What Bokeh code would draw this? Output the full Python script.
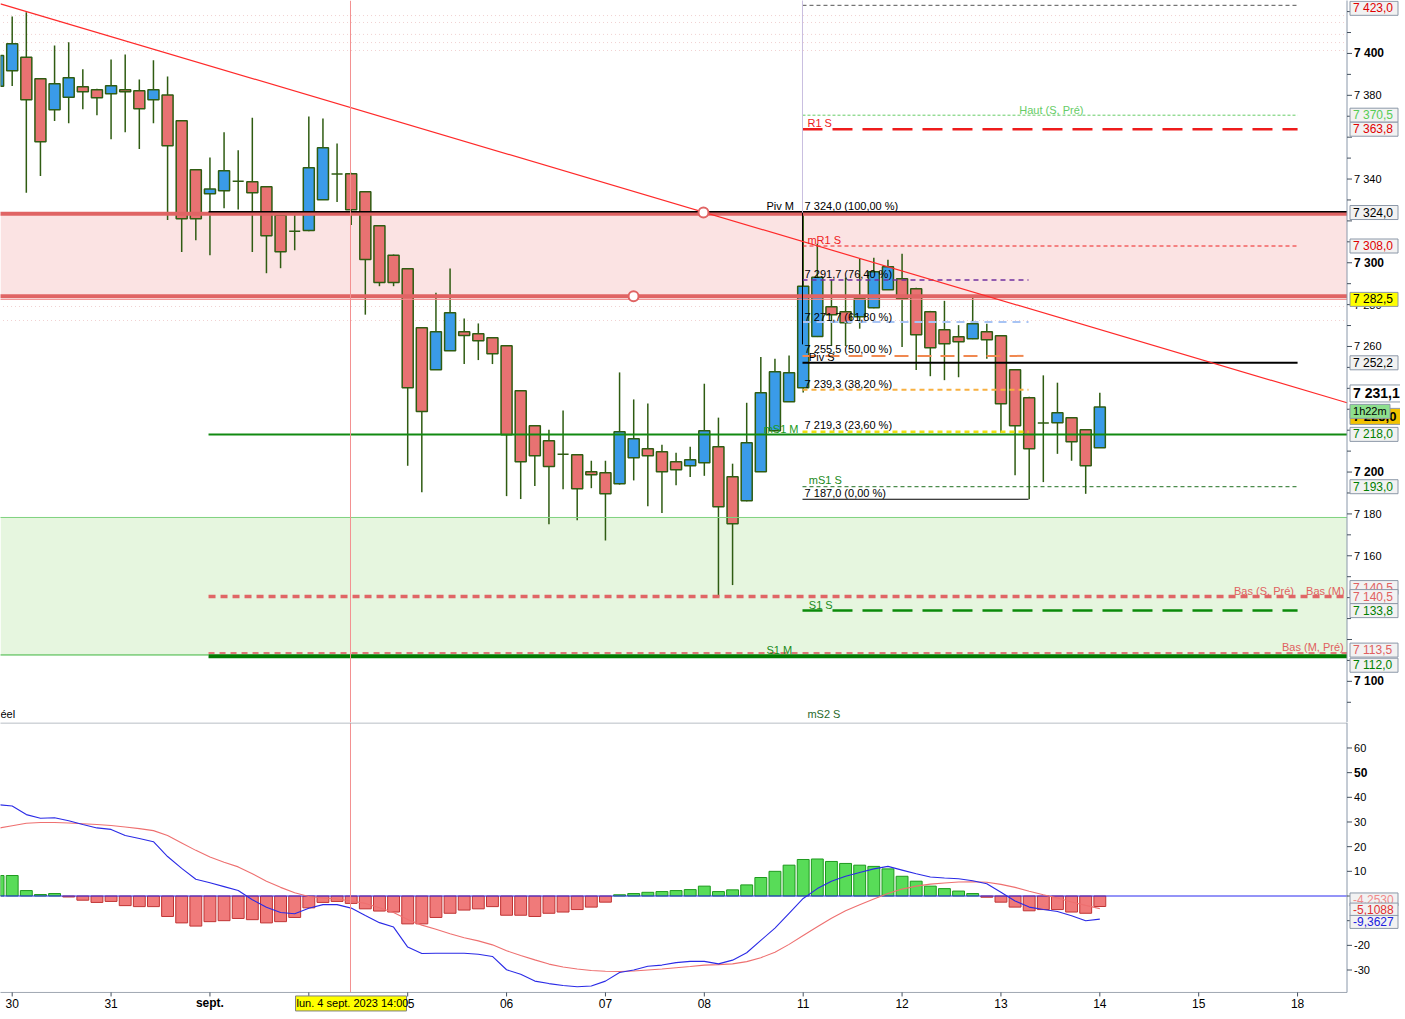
from bokeh.plotting import figure
from bokeh.models import Range1d, Span, BoxAnnotation, ColumnDataSource
from bokeh.layouts import column
from bokeh.embed import file_html
from bokeh.resources import INLINE
from bokeh.core.properties import value

# ---------------- data ----------------
candle_idx = list(range(-1, 78))
open_ = [7384.3, 7391.7, 7398.2, 7387.9, 7373.1, 7379.1, 7384.1, 7382.7, 7380.7, 7382.7,
         7382.2, 7377.9, 7380.1, 7367.8, 7344.4, 7333.0, 7334.4, 7339.0, 7338.7, 7336.3,
         7322.7, 7315.1, 7315.4, 7330.1, 7342.4, 7342.5, 7333.9, 7317.7, 7303.6, 7297.1,
         7268.9, 7248.9, 7258.0, 7267.0, 7266.1, 7264.2, 7260.3, 7238.8, 7222.1, 7215.0,
         7208.5, 7208.3, 7200.1, 7199.7, 7194.4, 7206.8, 7211.1, 7209.7, 7204.9, 7203.0,
         7204.4, 7212.1, 7197.8, 7186.3, 7200.1, 7219.7, 7233.6, 7240.3, 7264.8, 7279.0,
         7276.6, 7274.2, 7278.5, 7287.1, 7292.4, 7287.6, 7276.6, 7268.0, 7264.6, 7263.7,
         7267.0, 7265.1, 7248.9, 7235.5, 7223.4, 7223.6, 7225.9, 7220.2, 7211.6]
high = [7402.0, 7417.7, 7419.7, 7388.0, 7403.8, 7405.3, 7392.4, 7383.1, 7397.1, 7399.5,
        7387.6, 7396.7, 7389.0, 7368.0, 7344.5, 7350.3, 7362.3, 7353.7, 7369.3, 7336.5,
        7323.0, 7322.7, 7369.9, 7368.9, 7357.0, 7343.0, 7334.0, 7318.0, 7304.0, 7297.5,
        7269.0, 7285.7, 7297.3, 7273.4, 7271.0, 7264.5, 7260.5, 7239.0, 7222.5, 7220.2,
        7229.4, 7208.5, 7205.4, 7205.4, 7247.6, 7234.7, 7232.8, 7213.0, 7209.2, 7212.1,
        7242.2, 7226.0, 7204.0, 7233.1, 7255.0, 7254.1, 7255.7, 7324.0, 7309.1, 7291.9,
        7292.9, 7301.9, 7302.4, 7301.4, 7304.3, 7288.0, 7277.0, 7281.8, 7270.2, 7283.6,
        7270.9, 7265.5, 7249.0, 7236.0, 7246.2, 7242.7, 7226.0, 7220.5, 7237.9]
low = [7378.0, 7384.4, 7333.4, 7341.4, 7367.7, 7366.7, 7373.4, 7370.5, 7359.0, 7362.4,
       7354.3, 7366.7, 7320.4, 7305.1, 7310.8, 7303.6, 7326.0, 7325.5, 7305.1, 7295.0,
       7297.4, 7306.0, 7315.0, 7330.0, 7329.0, 7318.0, 7275.2, 7288.8, 7288.8, 7203.0,
       7190.4, 7248.9, 7258.0, 7251.6, 7253.5, 7251.6, 7188.5, 7187.1, 7193.3, 7175.1,
       7191.8, 7177.0, 7192.3, 7167.3, 7194.0, 7196.0, 7183.7, 7180.4, 7193.7, 7197.6,
       7198.2, 7140.5, 7146.0, 7186.0, 7200.0, 7219.5, 7233.5, 7238.0, 7264.5, 7260.2,
       7260.2, 7268.5, 7278.3, 7287.0, 7259.7, 7248.7, 7245.8, 7243.9, 7245.3, 7263.5,
       7254.1, 7218.8, 7198.5, 7187.0, 7195.2, 7208.7, 7205.4, 7189.6, 7211.5]
close = [7399.0, 7404.6, 7377.9, 7357.8, 7385.5, 7388.4, 7381.7, 7378.8, 7384.6, 7381.7,
         7373.6, 7382.7, 7355.9, 7321.0, 7321.0, 7335.2, 7344.0, 7339.0, 7333.4, 7312.9,
         7305.3, 7315.1, 7345.4, 7354.9, 7342.4, 7325.3, 7301.6, 7290.6, 7290.6, 7240.3,
         7228.9, 7267.0, 7276.1, 7265.3, 7262.7, 7256.5, 7217.8, 7204.9, 7207.8, 7202.6,
         7208.5, 7192.0, 7198.7, 7189.6, 7219.3, 7215.9, 7207.8, 7200.1, 7201.1, 7205.9,
         7219.7, 7183.4, 7175.3, 7214.0, 7237.9, 7247.9, 7247.4, 7288.8, 7293.1, 7275.2,
         7271.3, 7282.8, 7295.7, 7298.1, 7282.8, 7265.6, 7259.4, 7261.3, 7262.3, 7270.9,
         7263.2, 7232.6, 7222.1, 7211.1, 7223.4, 7228.3, 7214.5, 7203.0, 7231.1]

macd_hist = [8.3, 8.3, 2.2, 0.6, 1.0, -0.4, -1.7, -2.6, -2.2, -3.9,
             -4.3, -4.3, -8.3, -10.9, -12.2, -10.4, -10.0, -9.1, -9.6, -10.9,
             -10.4, -8.7, -4.8, -2.6, -2.2, -3.0, -5.2, -6.1, -6.5, -11.3,
             -11.3, -8.7, -7.0, -5.7, -5.2, -4.3, -7.8, -7.8, -8.3, -7.0,
             -6.5, -5.5, -4.5, -2.5, 0.5, 1.0, 1.5, 1.8, 2.2, 2.6,
             4.0, 1.8, 2.5, 4.5, 7.5, 10.0, 12.5, 14.8, 15.0, 14.0,
             13.2, 12.5, 12.0, 11.0, 8.0, 6.0, 4.0, 3.0, 2.0, 1.0,
             -0.5, -2.5, -4.5, -6.0, -5.5, -5.5, -6.5, -7.0, -4.25]
macd_line = [37.0, 36.5, 33.0, 31.5, 31.7, 30.5, 29.0, 27.6, 27.0, 24.5,
             23.3, 22.0, 16.0, 11.2, 6.8, 5.4, 3.8, 2.2, -1.5, -4.6,
             -6.7, -7.2, -5.0, -3.5, -3.5, -4.9, -7.9, -10.8, -12.6, -20.7,
             -23.3, -23.2, -23.2, -23.2, -23.6, -24.5, -29.9, -31.7, -34.5, -35.5,
             -36.3, -36.8, -36.5, -34.5, -31.0, -30.0, -28.5, -28.0, -27.0, -26.5,
             -26.5, -27.5, -26.0, -23.0, -18.0, -13.0, -7.0, -1.0, 3.0, 6.0,
             8.0, 9.5, 11.0, 12.0, 10.5, 9.0, 7.7, 7.3, 7.0, 6.2,
             5.0, 1.5, -2.0, -4.5, -5.5, -6.3, -8.0, -10.0, -9.3627]
signal_line = [27.5, 28.5, 29.5, 29.8, 29.8, 29.6, 29.3, 29.0, 28.6, 28.0,
               27.3, 26.5, 24.5, 21.5, 18.5, 15.8, 13.7, 11.8, 9.0, 6.0,
               3.5, 1.3, -0.2, -0.8, -1.2, -2.0, -3.0, -4.8, -6.7, -9.5,
               -11.8, -13.5, -15.3, -16.9, -18.2, -19.8, -22.2, -24.1, -25.9, -27.6,
               -28.8, -29.6, -30.2, -30.5, -30.6, -30.4, -30.0, -29.6, -29.1, -28.6,
               -28.0, -27.8, -27.5, -26.6, -25.0, -22.8, -19.6, -16.0, -12.5, -9.0,
               -6.0, -3.5, -1.2, 1.0, 2.8, 4.0, 4.8, 5.3, 5.7, 5.8,
               5.6, 4.7, 3.5, 1.9, 0.5, -0.8, -2.4, -3.8, -5.1088]

day_ticks = [0, 7, 14, 21, 28, 35, 42, 49, 56, 63, 70, 77, 84, 91]
day_labels = ["30", "31", "sept.", "04", "05", "06", "07", "08", "11", "12", "13", "14", "15", "18"]

price_ticks = list(range(7100, 7421, 20))
price_minor = list(range(7090, 7431, 20))
macd_ticks = [-30, -20, -10, 0, 10, 20, 30, 40, 50, 60]

# key levels
zone_red = (7284.0, 7323.4)
zone_red_line = 7282.5
zone_green = (7112.6, 7178.3)
piv_m, ms1_m, s1_m = 7324.0, 7218.0, 7112.0
bas_s_pre, bas_m_pre = 7140.5, 7113.5
mr2_s, haut_s_pre, r1_s, mr1_s, piv_s, ms1_s, s1_s = 7423.0, 7370.5, 7363.8, 7308.0, 7252.2, 7193.0, 7133.8
fib_hi, fib_lo = 7324.0, 7187.0
fib_levels = [7291.7, 7271.7, 7255.5, 7239.3, 7219.3]
fib_texts = ["7 324,0 (100,00 %)", "7 291,7 (76,40 %)", "7 271,7 (61,80 %)", "7 255,5 (50,00 %)",
             "7 239,3 (38,20 %)", "7 219,3 (23,60 %)", "7 187,0 (0,00 %)"]
faint_levels = [7418.1, 7414.8, 7409.1, 7405.2, 7401.4, 7279.1, 7272.4]
trend_pts = [(-0.83, 7423.7), (94.5, 7233.1)]
handle_pts = [(48.94, 7324.0), (43.99, 7284.0)]
cursor_idx = 23.95
macd_last = [-4.2530, -5.1088, -9.3627]

FONT = "Liberation Sans"
BLUE, RED, WICK = "#3a9be8", "#e87272", "#2f5c12"
AXC, TKC = "#8a98aa", "#44505e"

PXI = 14.125             # pixels per candle slot
XR = Range1d(-0.828, -0.828 + 1400 / PXI)
PY1 = 2.093              # pixels per price point
PY2 = 2.467              # pixels per MACD unit
AX = 94.5                # right axis position (index units)
def dx(px):
    return px / PXI

# ---------------- main price panel ----------------
p1 = figure(frame_width=1400, frame_height=722, x_range=XR,
            y_range=Range1d(7425.3 - 722 / PY1, 7425.3),
            toolbar_location=None, output_backend="svg", title=None,
            x_axis_location=None, y_axis_location=None,
            min_border_left=0, min_border_top=0, min_border_bottom=0, min_border_right=0)
p1.grid.visible = False
p1.outline_line_color = None
p1.background_fill_color = "white"

p1.add_layout(BoxAnnotation(bottom=zone_red[0], top=zone_red[1], right=AX, fill_color="#fbe3e3",
                            fill_alpha=1, line_color=None, level="underlay"))
p1.add_layout(BoxAnnotation(bottom=zone_green[0], top=zone_green[1], right=AX, fill_color="#e6f6df",
                            fill_alpha=1, line_color=None, level="underlay"))

def hseg(fig, y, x0, x1, color, width, dash="solid", alpha=1.0):
    fig.segment(x0=[x0], y0=[y], x1=[x1], y1=[y], line_color=color, line_width=width,
                line_dash=dash, line_alpha=alpha)

L0 = -1.5
for fl in faint_levels:
    hseg(p1, fl, L0, AX, "#f1d2d2", 1, "1 3")

src = ColumnDataSource(dict(
    x=candle_idx, o=open_, h=high, l=low, c=close,
    top=[max(a, b) for a, b in zip(open_, close)],
    bot=[min(a, b) for a, b in zip(open_, close)],
    col=[BLUE if c >= o else RED for o, c in zip(open_, close)]))
p1.segment("x", "h", "x", "l", source=src, line_color=WICK, line_width=1.5)
p1.vbar("x", 0.78, "top", "bot", source=src, fill_color="col", line_color=WICK, line_width=1.5)

W0, W1 = 55.95, 91.0
M0, M1 = 13.9, AX
F0, F1 = 55.95, 71.95

hseg(p1, zone_green[1], L0, M1, "#7fd27f", 1)
hseg(p1, zone_green[0], L0, M0, "#3cb43c", 1)
hseg(p1, zone_red_line, L0, M1, "#f08a8a", 1)
hseg(p1, zone_red[1], L0, M1, "#e06464", 4)
hseg(p1, zone_red[0], L0, M1, "#e06464", 4)
hseg(p1, piv_m + 0.4, M0, M1, "black", 1.5)

hseg(p1, mr2_s, W0, W1, "#555555", 1, "4 3")
hseg(p1, haut_s_pre, W0, W1, "#66cc66", 1, "3 2")
hseg(p1, r1_s, W0, W1, "#ee1c1c", 2.5, "20 10")
hseg(p1, mr1_s, W0, W1, "#ee2020", 1, "4 3")
hseg(p1, piv_s, W0, W1, "black", 2)
hseg(p1, ms1_s, W0, W1, "#1f6f1f", 1, "4 3")
hseg(p1, s1_s, W0, W1, "#0a8a0a", 2.5, "20 10")

hseg(p1, ms1_m, M0, M1, "#128a12", 2)
hseg(p1, bas_s_pre, M0, M1, "#e06666", 3.5, "7 5")
hseg(p1, s1_m, M0, M1, "#007a00", 4)
hseg(p1, bas_m_pre, M0, M1, "#e07878", 2, "6 5")

fib_cols = ["#7030a0", "#a8c4f4", "#f08850", "#f8b040", "#f0e010"]
fib_w = [1.5, 2, 2, 2, 2.5]
fib_d = ["5 4", "8 6", "14 9", "5 4", "5 4"]
for lv, c, w, d in zip(fib_levels, fib_cols, fib_w, fib_d):
    hseg(p1, lv, F0, F1, c, w, d)
hseg(p1, fib_lo, F0, F1, "black", 1)
p1.segment(x0=[F0], y0=[fib_hi], x1=[F0], y1=[7261.0], line_color="black", line_width=1)
p1.segment(x0=[F0], y0=[7426.0], x1=[F0], y1=[fib_hi], line_color="#c9bfe0", line_width=1)

p1.line(x=[t[0] for t in trend_pts], y=[t[1] for t in trend_pts], line_color="#ff2a2a", line_width=1.2)
p1.scatter(x=[h[0] for h in handle_pts], y=[h[1] for h in handle_pts], size=10,
           fill_color="white", line_color="#e06464", line_width=2)
p1.add_layout(Span(location=cursor_idx, dimension="height", line_color="#f39090", line_width=1))

def txt(fig, xs, ys, ss, color="black", size="11px", style="normal", align="left"):
    fig.text(x=xs, y=ys, text=ss, text_color=color, text_font=value(FONT), text_font_size=value(size),
             text_font_style=style, text_align=align, text_baseline="middle")

# chart texts
txt(p1, [53.4], [7326.9], ["Piv M"])
txt(p1, [56.1] * 7, [7326.9, 7294.4, 7274.3, 7258.6, 7242.3, 7222.3, 7189.8], fib_texts)
txt(p1, [56.3], [7367.0], ["R1 S"], "#ee1c1c")
txt(p1, [71.3], [7373.2], ["Haut (S, Pré)"], "#66cc66")
txt(p1, [56.3], [7311.1], ["mR1 S"], "#ee2020")
txt(p1, [56.4], [7255.2], ["Piv S"])
txt(p1, [53.2], [7220.8], ["mS1 M"], "#1a9a1a")
txt(p1, [56.4], [7196.0], ["mS1 S"], "#1a8a1a")
txt(p1, [56.4], [7136.7], ["S1 S"], "#1a8a1a")
txt(p1, [53.4], [7114.8], ["S1 M"], "#1a8a1a")
txt(p1, [86.5, 91.6], [7143.4, 7143.4], ["Bas (S, Pré)", "Bas (M)"], "#e06060")
txt(p1, [89.9], [7116.2], ["Bas (M, Pré)"], "#e06060")
txt(p1, [56.3], [7084.6], ["mS2 S"], "#2a6a2a")
txt(p1, [-0.83], [7084.4], ["éel"])

# ---- right price axis (ticks and labels mapped by the figure's scale) ----
def fmt_price(t):
    return f"{t // 1000} {t % 1000:03d}"

def right_axis(fig, y0, y1, ticks, minor, labels, bold, hidden, tl=5):
    fig.segment(x0=[AX], y0=[y0], x1=[AX], y1=[y1], line_color=AXC, line_width=1)
    fig.segment(x0=[AX] * len(ticks), y0=ticks, x1=[AX + dx(tl)] * len(ticks), y1=ticks,
                line_color=TKC, line_width=1)
    if minor:
        fig.segment(x0=[AX] * len(minor), y0=minor, x1=[AX + dx(4)] * len(minor), y1=minor,
                    line_color=TKC, line_width=1)
    nt = [(t, s) for t, s in zip(ticks, labels) if t not in hidden and t not in bold]
    bt = [(t, s) for t, s in zip(ticks, labels) if t in bold and t not in hidden]
    txt(fig, [AX + dx(7)] * len(nt), [t for t, _ in nt], [s for _, s in nt], size="11px")
    txt(fig, [AX + dx(7)] * len(bt), [t for t, _ in bt], [s for _, s in bt], size="12px", style="bold")

right_axis(p1, 7080.0, 7426.0, price_ticks, price_minor, [fmt_price(t) for t in price_ticks],
           {7100, 7200, 7300, 7400}, {7420, 7360, 7320, 7240, 7220, 7140, 7120})

BOX_X = AX + dx(27)
def boxes(fig, ys, texts, colors, bgs, widths, heights, sizes, styles):
    for y, s, c, bg, w, h, sz, st in zip(ys, texts, colors, bgs, widths, heights, sizes, styles):
        fig.rect(x=[BOX_X + dx((w - 48) / 2)], y=[y], width=[w], height=[h],
                 width_units="screen", height_units="screen", fill_color=bg, line_color="#8c98a8",
                 line_width=1)
        txt(fig, [AX + dx(6)], [y], [s], c, sz, st)

b_vals = [mr2_s, haut_s_pre, r1_s, piv_m, mr1_s, zone_red_line, piv_s,
          7226.6, close[-1], 7229.0, ms1_m, ms1_s, bas_s_pre, bas_s_pre, s1_s, bas_m_pre, s1_m]
b_shift = [-3, 0, 0, 0, 0, 0, 0, 0, 13.5, 0, 0, 0, 9, 0, 0, 3, -9]   # px, to avoid overlaps
b_text = ["7 423,0", "7 370,5", "7 363,8", "7 324,0", "7 308,0", "7 282,5", "7 252,2",
          "7 225,0", "7 231,1", "1h22m", "7 218,0", "7 193,0", "7 140,5", "7 140,5", "7 133,8",
          "7 113,5", "7 112,0"]
b_col = ["#e00000", "#55cc55", "#e00000", "black", "#e00000", "black", "black",
         "black", "black", "black", "#008000", "#008000", "#e06060", "#e06060", "#008000",
         "#e06060", "#008000"]
b_bg = ["#f2f2f2", "#f2f2f2", "#f2f2f2", "#f2f2f2", "#f2f2f2", "#ffff00", "#f2f2f2",
        "#f2c200", "white", "#8ee08e", "#f2f2f2", "#f2f2f2", "#f2f2f2", "#f2f2f2", "#f2f2f2",
        "#f2f2f2", "#f2f2f2"]
b_w = [48] * 7 + [52, 55, 40] + [48] * 7
b_h = [14] * 7 + [16, 17, 14] + [14] * 7
b_sz = ["12px"] * 7 + ["13px", "14px", "11px"] + ["12px"] * 7
b_st = ["normal"] * 7 + ["bold", "bold", "normal"] + ["normal"] * 7
boxes(p1, [v + s / PY1 for v, s in zip(b_vals, b_shift)], b_text, b_col, b_bg, b_w, b_h, b_sz, b_st)

# ---------------- MACD panel ----------------
M_TOP = 70.33
M_BOT = -39.1
p2 = figure(frame_width=1400, frame_height=290, x_range=XR, y_range=Range1d(M_TOP - 290 / PY2, M_TOP),
            toolbar_location=None, output_backend="svg", title=None,
            x_axis_location=None, y_axis_location=None,
            min_border_left=0, min_border_top=0, min_border_bottom=0, min_border_right=0)
p2.grid.visible = False
p2.outline_line_color = None
p2.background_fill_color = "white"

pos = [(i, h) for i, h in zip(candle_idx, macd_hist) if h >= 0]
neg = [(i, h) for i, h in zip(candle_idx, macd_hist) if h < 0]
p2.vbar(x=[a for a, _ in pos], width=0.84, top=[b for _, b in pos], bottom=0,
        fill_color="#58dc58", line_color="#1e9a1e", line_width=1)
p2.vbar(x=[a for a, _ in neg], width=0.84, top=0, bottom=[b for _, b in neg],
        fill_color="#f07a7a", line_color="#c03434", line_width=1)
hseg(p2, 0, L0, AX, "#2828f0", 1)
p2.line(candle_idx, signal_line, line_color="#ee7070", line_width=1.1)
p2.line(candle_idx, macd_line, line_color="#2a2ae6", line_width=1.1)
p2.segment(x0=[cursor_idx], y0=[M_BOT], x1=[cursor_idx], y1=[M_TOP], line_color="#f39090", line_width=1)

hseg(p2, M_TOP - 0.2, L0, AX, "#a0a8b2", 1)
hseg(p2, M_BOT, L0, AX, "#a0a8b2", 1)

right_axis(p2, M_BOT, M_TOP, macd_ticks, [], [str(t) for t in macd_ticks], {50}, {0, -10})
boxes(p2, [-1.4, -5.5, -10.5], [f"{v:.4f}".replace(".", ",") for v in macd_last],
      ["#f08a8a", "#e03030", "#2020e0"], ["#f2f2f2"] * 3, [48] * 3, [13] * 3, ["12px"] * 3, ["normal"] * 3)

# bottom time axis (ticks and labels placed by the x scale)
p2.segment(x0=day_ticks, y0=[M_BOT] * len(day_ticks), x1=day_ticks,
           y1=[M_BOT - 4 / PY2] * len(day_ticks), line_color=TKC, line_width=1)
LAB_Y = M_BOT - 11 / PY2
nd = [(t, s) for t, s in zip(day_ticks, day_labels) if s not in ("sept.", "04")]
txt(p2, [t for t, _ in nd], [LAB_Y] * len(nd), [s for _, s in nd], size="12px", align="center")
txt(p2, [day_ticks[2]], [LAB_Y], ["sept."], size="12px", style="bold", align="center")
p2.rect(x=[20.06 + dx(55.5)], y=[LAB_Y], width=[111], height=[15], width_units="screen",
        height_units="screen", fill_color="#ffff00", line_color="#808080", line_width=1)
txt(p2, [20.06 + dx(1)], [LAB_Y], ["lun. 4 sept. 2023 14:00"], size="11px")

layout = column(p1, p2, spacing=0)
open("out.html", "w").write(file_html(layout, INLINE))
